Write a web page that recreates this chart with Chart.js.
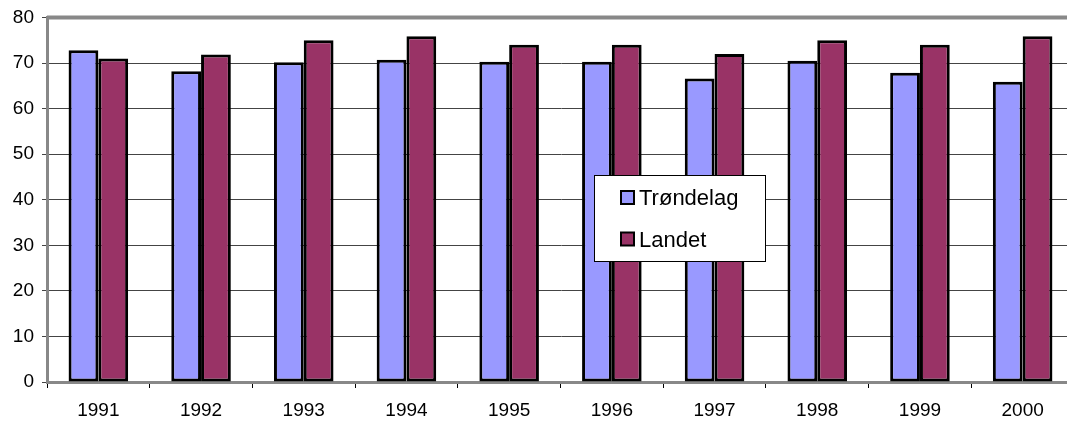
<!DOCTYPE html>
<html>
<head>
<meta charset="utf-8">
<script src="https://cdn.jsdelivr.net/npm/chart.js@4/dist/chart.umd.min.js"></script>
<style>
    body { margin: 0; background: #fff; overflow: hidden; }
    #wrap { width: 1074px; height: 423px; position: relative; }
</style>
</head>
<body>
<div id="wrap"><canvas id="barChart" width="1074" height="423"></canvas></div>
<script>
const years = ["1991", "1992", "1993", "1994", "1995", "1996", "1997", "1998", "1999", "2000"];
const trondelag = [72.8, 68.2, 70.2, 70.7, 70.3, 70.3, 66.6, 70.5, 67.9, 65.9];
const landet = [71.0, 71.9, 75.0, 75.9, 74.0, 74.0, 72.0, 75.0, 74.0, 75.9];
const yTicks = [0, 10, 20, 30, 40, 50, 60, 70, 80];

const FONT = "'Liberation Sans', Arial, sans-serif";

// gray frame on top of the plot (the old 3D wall look)
const framePlugin = {
    id: "frame",
    afterDatasetsDraw(chart) {
        const ctx = chart.ctx;
        const a = chart.chartArea;
        ctx.save();
        ctx.strokeStyle = "#888888";
        ctx.lineWidth = 4;
        ctx.beginPath();
        ctx.moveTo(a.left, a.top);
        ctx.lineTo(a.right, a.top);
        ctx.stroke();
        ctx.restore();
    }
};

// legend box floating inside the plot
const boxLegend = {
    id: "boxLegend",
    afterDraw(chart) {
        const ctx = chart.ctx;
        const x = 594, y = 175, w = 171, h = 86;
        ctx.save();
        ctx.fillStyle = "#ffffff";
        ctx.fillRect(x, y, w, h);
        ctx.strokeStyle = "#000000";
        ctx.lineWidth = 1;
        ctx.strokeRect(x + 0.5, y + 0.5, w, h);
        ctx.font = "22px " + FONT;
        ctx.textBaseline = "middle";
        chart.data.datasets.forEach((ds, i) => {
            const cy = 198 + i * 41.5;
            ctx.fillStyle = ds.backgroundColor;
            ctx.fillRect(621, cy - 7, 13, 13);
            ctx.lineWidth = 2;
            ctx.strokeRect(621, cy - 7, 13, 13);
            ctx.fillStyle = "#000000";
            ctx.fillText(ds.label, 639, cy + 1);
        });
        ctx.restore();
    }
};

new Chart(document.getElementById("barChart"), {
    type: "bar",
    data: {
        labels: years,
        datasets: [
            {
                label: "Trøndelag",
                data: trondelag,
                backgroundColor: "#9999FF",
                borderColor: "#000000",
                borderWidth: 3,
                borderSkipped: false
            },
            {
                label: "Landet",
                data: landet,
                backgroundColor: "#993366",
                borderColor: "#000000",
                borderWidth: 3,
                borderSkipped: false
            }
        ]
    },
    options: {
        responsive: false,
        animation: false,
        layout: { padding: { top: 0, left: 0, right: 0, bottom: 0 } },
        datasets: { bar: { categoryPercentage: 0.58, barPercentage: 1.0 } },
        plugins: {
            legend: { display: false },
            tooltip: { enabled: false }
        },
        scales: {
            x: {
                afterFit(axis) { axis.height = 41; },
                grid: { drawOnChartArea: false, drawTicks: true, tickLength: 6, color: "#000000", offset: true },
                border: { color: "#888888", width: 3 },
                ticks: { color: "#000000", font: { size: 19, family: FONT }, padding: 11, maxRotation: 0 }
            },
            y: {
                min: 0,
                max: 80,
                afterFit(axis) { axis.width = 47; },
                afterBuildTicks(axis) { axis.ticks = yTicks.map(v => ({ value: v })); },
                grid: { color: "#444444", lineWidth: 1, tickLength: 5 },
                border: { color: "#888888", width: 3 },
                ticks: { color: "#000000", font: { size: 19, family: FONT, lineHeight: 1.0 }, padding: 8 }
            }
        }
    },
    plugins: [framePlugin, boxLegend]
});
</script>
</body>
</html>
